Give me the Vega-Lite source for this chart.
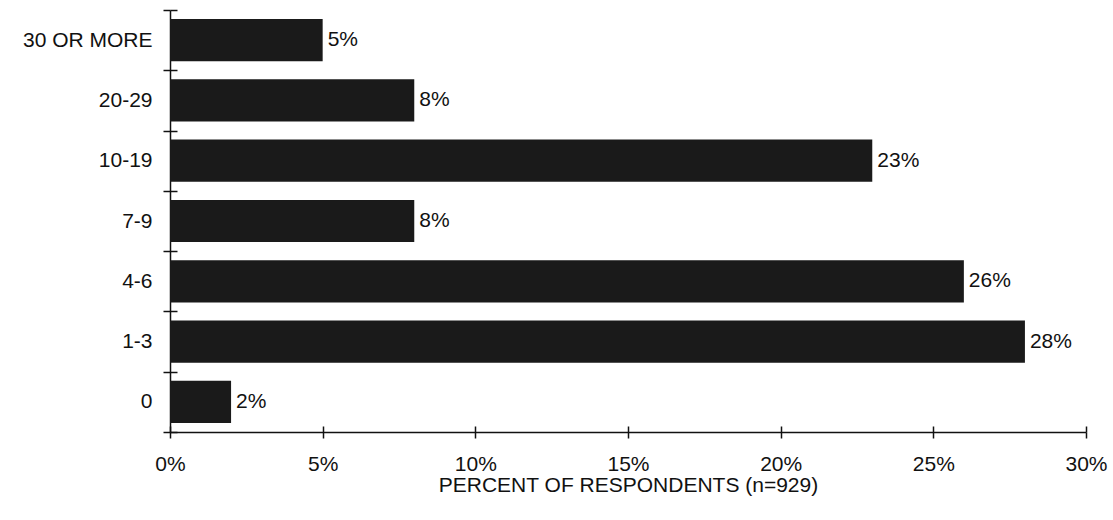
{
  "$schema": "https://vega.github.io/schema/vega-lite/v6.json",
  "width": 916,
  "height": 422,
  "autosize": {"type": "none"},
  "padding": {"left": 170, "top": 10, "right": 27, "bottom": 88},
  "background": "white",
  "config": {
    "font": "Liberation Sans",
    "view": {"stroke": null},
    "axis": {
      "domainColor": "#111111",
      "tickColor": "#111111",
      "labelColor": "#111111",
      "titleColor": "#111111",
      "labelFont": "Liberation Sans",
      "titleFont": "Liberation Sans",
      "labelFontSize": 21,
      "titleFontSize": 21,
      "titleFontWeight": "normal",
      "domainWidth": 1.5,
      "tickWidth": 1.5,
      "grid": false
    }
  },
  "data": {
    "values": [
      {"group": "30 OR MORE", "pct": 0.05},
      {"group": "20-29", "pct": 0.08},
      {"group": "10-19", "pct": 0.23},
      {"group": "7-9", "pct": 0.08},
      {"group": "4-6", "pct": 0.26},
      {"group": "1-3", "pct": 0.28},
      {"group": "0", "pct": 0.02}
    ]
  },
  "layer": [
    {
      "mark": {"type": "bar", "color": "#1a1a1a", "height": {"band": 0.7}},
      "encoding": {
        "y": {
          "field": "group",
          "type": "nominal",
          "sort": ["30 OR MORE", "20-29", "10-19", "7-9", "4-6", "1-3", "0"],
          "scale": {"paddingInner": 0, "paddingOuter": 0},
          "axis": {
            "title": null,
            "tickBand": "extent",
            "tickSize": 7,
            "labelPadding": 11,
            "labelAngle": 0
          }
        },
        "x": {
          "field": "pct",
          "type": "quantitative",
          "scale": {"domain": [0, 0.3], "nice": false},
          "axis": {
            "values": [0, 0.05, 0.1, 0.15, 0.2, 0.25, 0.3],
            "format": ".0%",
            "tickSize": 6,
            "labelPadding": 15,
            "title": "PERCENT OF RESPONDENTS (n=929)",
            "titlePadding": 0,
            "labelFlush": false
          }
        }
      }
    },
    {
      "mark": {"type": "text", "align": "left", "baseline": "middle", "dx": 5, "fontSize": 21, "color": "#111111", "font": "Liberation Sans"},
      "encoding": {
        "y": {
          "field": "group",
          "type": "nominal",
          "sort": ["30 OR MORE", "20-29", "10-19", "7-9", "4-6", "1-3", "0"],
          "axis": {
            "orient": "left",
            "title": null,
            "labels": false,
            "domain": false,
            "tickBand": "extent",
            "tickSize": -7
          }
        },
        "x": {
          "field": "pct",
          "type": "quantitative",
          "axis": {
            "orient": "bottom",
            "values": [0, 0.05, 0.1, 0.15, 0.2, 0.25, 0.3],
            "labels": false,
            "domain": false,
            "title": null,
            "tickSize": -6
          }
        },
        "text": {"field": "pct", "type": "quantitative", "format": ".0%"}
      }
    }
  ],
  "resolve": {"axis": {"x": "independent", "y": "independent"}}
}
